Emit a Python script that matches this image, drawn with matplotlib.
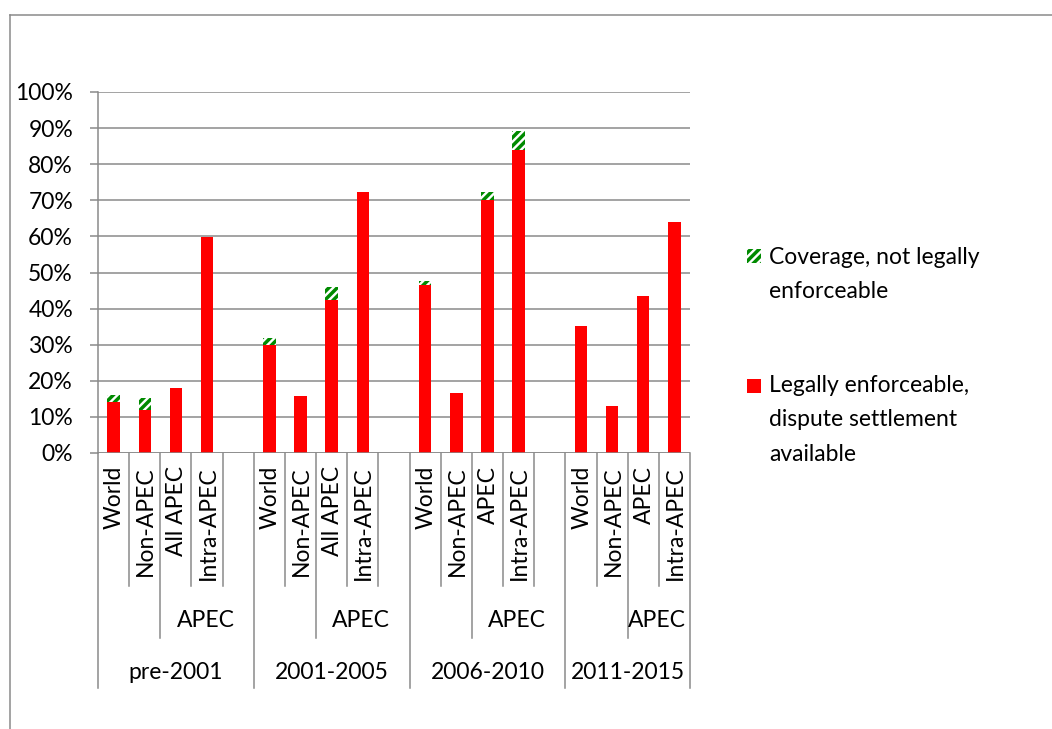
import numpy as np
from matplotlib import pyplot as plt
from matplotlib.patches import Rectangle
from matplotlib.lines import Line2D

plt.rcParams['font.family'] = ['Lato', 'DejaVu Sans']
plt.rcParams['hatch.linewidth'] = 2.5

# data (percent), blank slot between periods
periods = ['pre-2001', '2001-2005', '2006-2010', '2011-2015']
sub_labels = ['World', 'Non-APEC', 'All APEC', 'Intra-APEC', '',
              'World', 'Non-APEC', 'All APEC', 'Intra-APEC', '',
              'World', 'Non-APEC', 'APEC', 'Intra-APEC', '',
              'World', 'Non-APEC', 'APEC', 'Intra-APEC']
mid_labels = ['', '', 'APEC', 'APEC', 'APEC'] * 3 + ['', '', 'APEC', 'APEC']
enforceable = [14.0, 11.9, 17.9, 59.7, np.nan,
               30.0, 15.8, 42.5, 72.4, np.nan,
               46.5, 16.7, 70.0, 83.9, np.nan,
               35.3, 13.0, 43.6, 64.1]
coverage = [2.1, 3.3, 0, 0, np.nan,
            1.8, 0, 3.5, 0, np.nan,
            1.2, 0, 2.3, 5.4, np.nan,
            0, 0, 0, 0]
series_names = ['Coverage, not legally\nenforceable',
                'Legally enforceable,\ndispute settlement\navailable']

red = '#ff0000'
green = '#008a00'
grey = '#8a8a8a'
fs = 16.5
W, H = 1052, 729

fig = plt.figure(figsize=(W / 100, H / 100), dpi=100)
ax = fig.add_axes([98 / W, 1 - 453 / H, 592 / W, 361 / H])

x = np.arange(len(sub_labels))
ax.bar(x, enforceable, width=0.4, color=red, zorder=3)
ax.bar(x, coverage, width=0.4, bottom=enforceable, facecolor='white',
       edgecolor=green, hatch='////', linewidth=0, zorder=3)

ax.set_xlim(-0.5, len(x) - 0.5)
ax.set_ylim(0, 100)
ax.set_yticks(range(0, 101, 10))
ax.set_yticklabels([f'{v}%' for v in range(0, 101, 10)], fontsize=fs)
ax.tick_params(axis='y', length=6, width=1.1, color=grey, pad=12)
ax.set_xticks([])
ax.grid(axis='y', color=grey, linewidth=1.1, zorder=0)
for s in ['top', 'right', 'bottom']:
    ax.spines[s].set_visible(False)
ax.spines['left'].set_color(grey)
ax.spines['left'].set_linewidth(1.1)
ax.axhline(0, color=grey, linewidth=1.1, zorder=4)


def ay(py):
    return (453 - py) / 361


tr = ax.get_xaxis_transform()
y1, y2, y3 = ay(586), ay(638), ay(688)

# category labels
for i, lab in enumerate(sub_labels):
    if lab:
        ax.text(i + 0.03, ay(466), lab, rotation=90, ha='center', va='top',
                fontsize=fs, transform=tr)

# separator lines, level by level
n = len(sub_labels)
starts = [0, 5, 10, 15]
for gi, s in enumerate(starts):
    end = min(s + 5, n)
    ax.add_line(Line2D([s - 0.5, s - 0.5], [0, y3], transform=tr, color=grey,
                       lw=1.1, clip_on=False))
    for b in [s + 0.5, s + 2.5, s + 3.5]:
        if b < n - 0.5:
            ax.add_line(Line2D([b, b], [0, y1], transform=tr, color=grey,
                               lw=1.1, clip_on=False))
    ax.add_line(Line2D([s + 1.5, s + 1.5], [0, y2], transform=tr, color=grey,
                       lw=1.1, clip_on=False))
    apec_mid = (s + 1.5 + end - 0.5) / 2
    ax.text(apec_mid - 0.05, ay(621), mid_labels[s + 2], ha='center',
            va='center', fontsize=fs, transform=tr)
    ax.text((s - 0.5 + end - 0.5) / 2, ay(673), periods[gi], ha='center',
            va='center', fontsize=fs, transform=tr)
ax.add_line(Line2D([n - 0.5, n - 0.5], [0, y3], transform=tr, color=grey,
                   lw=1.1, clip_on=False))

# legend (Excel style: key square aligned with first text line)
legend_rows = [(247, 249, dict(facecolor='white', edgecolor=green, hatch='////', linewidth=0)),
               (375, 379, dict(facecolor=red, linewidth=0))]
for (py, ky, style), name in zip(legend_rows, series_names):
    fig.add_artist(Rectangle((747 / W, 1 - (ky + 14) / H), 14 / W, 14 / H,
                             transform=fig.transFigure, **style))
    fig.text(769 / W, 1 - py / H, name, ha='left', va='top', fontsize=fs,
             linespacing=1.78)

# chart area border
fig.add_artist(Line2D([10 / W, 1], [1 - 14.5 / H, 1 - 14.5 / H], color=grey, lw=1.1))
fig.add_artist(Line2D([10 / W, 10 / W], [0, 1 - 14.5 / H], color=grey, lw=1.1))

fig.savefig('out.png', dpi=100)
